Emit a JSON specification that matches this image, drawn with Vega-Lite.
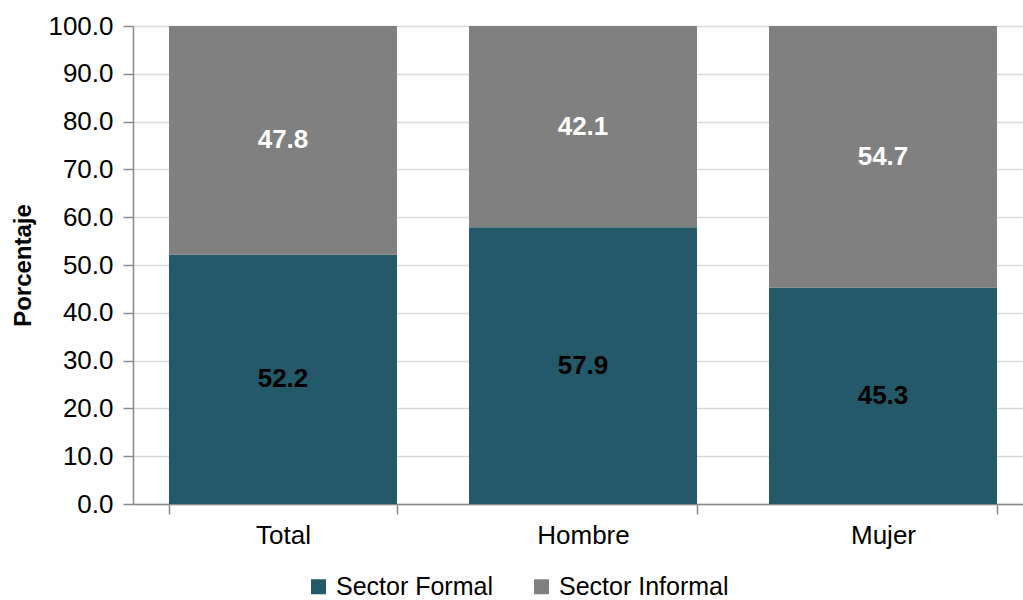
{
  "$schema": "https://vega.github.io/schema/vega-lite/v6.json",
  "autosize": {"type": "none"},
  "padding": {"left": 133, "top": 26, "right": 0, "bottom": 96},
  "width": 890,
  "height": 478,
  "background": "white",
  "config": {
    "font": "Liberation Sans",
    "view": {"stroke": null}
  },
  "data": {
    "values": [
      {"grupo": "Total", "sector": "Sector Formal", "orden": 1, "valor": 52.2},
      {"grupo": "Total", "sector": "Sector Informal", "orden": 2, "valor": 47.8},
      {"grupo": "Hombre", "sector": "Sector Formal", "orden": 1, "valor": 57.9},
      {"grupo": "Hombre", "sector": "Sector Informal", "orden": 2, "valor": 42.1},
      {"grupo": "Mujer", "sector": "Sector Formal", "orden": 1, "valor": 45.3},
      {"grupo": "Mujer", "sector": "Sector Informal", "orden": 2, "valor": 54.7}
    ]
  },
  "transform": [
    {"stack": "valor", "groupby": ["grupo"], "sort": [{"field": "orden", "order": "ascending"}], "as": ["y0", "y1"]},
    {"calculate": "(datum.y0 + datum.y1) / 2", "as": "ymid"}
  ],
  "encoding": {
    "x": {
      "field": "grupo",
      "type": "nominal",
      "sort": ["Total", "Hombre", "Mujer"],
      "scale": {"range": [0, 900], "paddingInner": 0.24, "paddingOuter": 0.12},
      "axis": {
        "title": null,
        "labelAngle": 0,
        "labelFontSize": 26,
        "labelColor": "#000000",
        "labelPadding": 8,
        "tickBand": "extent",
        "tickSize": 10,
        "tickColor": "#898989",
        "domainColor": "#898989",
        "domainWidth": 1.5,
        "tickWidth": 1.5
      }
    }
  },
  "layer": [
    {
      "mark": {"type": "bar"},
      "encoding": {
        "y": {
          "field": "y0",
          "type": "quantitative",
          "scale": {"domain": [0, 100], "nice": false},
          "axis": {
            "title": "Porcentaje",
            "titleFontSize": 24,
            "titleFontWeight": "bold",
            "titleColor": "#000000",
            "titlePadding": 12,
            "values": [0, 10, 20, 30, 40, 50, 60, 70, 80, 90, 100],
            "format": ".1f",
            "labelFontSize": 26,
            "labelColor": "#000000",
            "labelPadding": 10,
            "tickSize": 10,
            "tickColor": "#898989",
            "tickWidth": 1.5,
            "domainColor": "#898989",
            "domainWidth": 1.5,
            "gridColor": "#d9d9d9",
            "gridWidth": 1.5
          }
        },
        "y2": {"field": "y1"},
        "color": {
          "field": "sector",
          "type": "nominal",
          "scale": {"domain": ["Sector Formal", "Sector Informal"], "range": ["#235968", "#808080"]},
          "legend": {
            "title": null,
            "orient": "none",
            "direction": "horizontal",
            "legendX": 173,
            "legendY": 548,
            "symbolType": "square",
            "symbolSize": 225,
            "symbolStrokeWidth": 0,
            "labelFontSize": 25,
            "labelColor": "#000000",
            "labelOffset": 5,
            "labelLimit": 400,
            "columnPadding": 36
          }
        }
      }
    },
    {
      "mark": {"type": "text", "fontSize": 26, "fontWeight": "bold", "baseline": "middle", "align": "center"},
      "encoding": {
        "y": {"field": "ymid", "type": "quantitative"},
        "text": {"field": "valor", "type": "quantitative", "format": ".1f"},
        "color": {
          "condition": {"test": "datum.sector == 'Sector Formal'", "value": "#000000"},
          "value": "#ffffff"
        }
      }
    }
  ]
}
